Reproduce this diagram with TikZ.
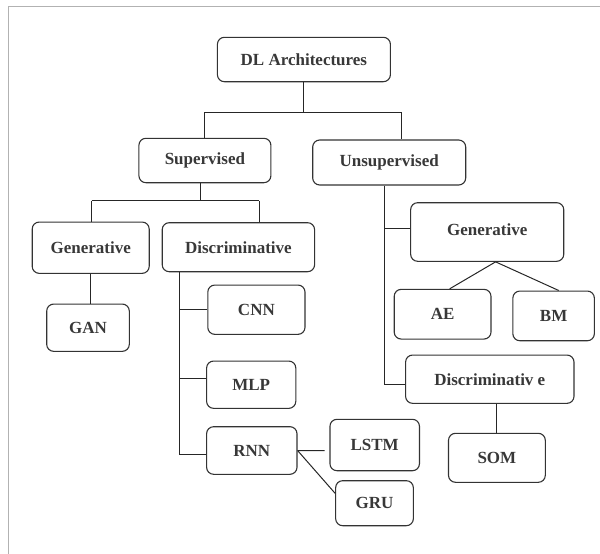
\documentclass[tikz,border=0pt]{standalone}
\usepackage{fontspec}
\setmainfont{Liberation Serif}
\usetikzlibrary{calc}
\begin{document}
\begin{tikzpicture}[x=1pt,y=-1pt,
  box/.style={draw=black!80, line width=1.1pt, rounded corners=7pt, inner sep=0pt,
    align=center, text=black!78, font=\bfseries\fontsize{17}{20}\selectfont},
  sz/.style 2 args={minimum width=#1pt, minimum height=#2pt},
  link/.style={draw=black!85, line width=1pt},
  frame/.style={draw=black!30, line width=1.3pt}]
\useasboundingbox (0,0) rectangle (600,554);
% page frame (left and top edges)
\draw[frame] (8.4,554) -- (8.4,6.7) -- (600,6.7);

% boxes
\node[box, sz={173}{44.4}] (dl) at (303.9,59.5) {DL Architectures};
\node[box, sz={132}{44.4}] (sup) at (204.9,160.5) {Supervised};
\node[box, sz={153}{45}] (unsup) at (389.2,162.5) {Unsupervised};
\node[box, sz={117}{51.3}] (genL) at (90.7,247.7) {Generative};
\node[box, sz={152.4}{49}] (discL) at (238.4,247.2) {Discriminative};
\node[box, sz={82.6}{47.3}] (gan) at (88,327.7) {GAN};
\node[box, sz={97.2}{49.3}] (cnn) at (256.4,309.7) {CNN};
\node[box, sz={89.2}{47.3}] (mlp) at (251.2,384.7) {MLP};
\node[box, sz={90.4}{47.6}] (rnn) at (251.8,450.5) {RNN};
\node[box, sz={89.5}{51.4}] (lstm) at (374.7,445) {LSTM};
\node[box, sz={77.7}{45}] (gru) at (374.5,503.2) {GRU};
\node[box, sz={153.1}{58.6}] (genR) at (487.2,232) {\raisebox{5pt}{Generative}};
\node[box, sz={96.8}{49.7}] (ae) at (442.6,314.2) {AE};
\node[box, sz={81.5}{49.7}] (bm) at (553.6,315.9) {BM};
\node[box, sz={168.4}{48.3}] (discR) at (489.8,379.2) {Discriminativ e};
\node[box, sz={96.8}{49}] (som) at (496.9,457.8) {SOM};

% junction points
\coordinate (b1) at (204.7,112.3);
\coordinate (b2) at (401,112.3);
\coordinate (s1) at (200.1,200.7);
\coordinate (s2) at (91.8,200.7);
\coordinate (s3) at (259.1,200.7);
\coordinate (dx) at (179.1,454);
\coordinate (m1) at (179.1,378.3);
\coordinate (l1) at (324.5,450.7);
\coordinate (g1) at (335.6,493.3);
\coordinate (ux) at (384.6,384);
\coordinate (u1) at (384.6,228.3);
\coordinate (gr) at (495.6,261.3);
\coordinate (a1) at (449.7,289.3);
\coordinate (bm1) at (558.7,291);

% top level
\draw[link] (dl.south) -- (dl.south |- b1);
\draw[link] (b1) -- (b2);
\draw[link] (b1) -- (b1 |- sup.north);
\draw[link] (b2) -- (b2 |- unsup.north);

% supervised branch
\draw[link] (sup.south -| s1) -- (s1);
\draw[link] (s2) -- (s3);
\draw[link] (s2) -- (s2 |- genL.north);
\draw[link] (s3) -- (s3 |- discL.north);
\draw[link] (genL.south) -- (genL.south |- gan.north);
\draw[link] (discL.south -| dx) -- (dx) -- (dx -| rnn.west);
\draw[link] (cnn.west) -- (cnn.west -| dx);
\draw[link] (mlp.west |- m1) -- (m1);
\draw[link] (rnn.east) -- (l1);
\draw[link] (rnn.east) -- (gru.west |- g1);

% unsupervised branch
\draw[link] (unsup.south -| ux) -- (ux) -- (ux -| discR.west);
\draw[link] (u1) -- (u1 -| genR.west);
\draw[link] (genR.south -| gr) -- (ae.north -| a1);
\draw[link] (genR.south -| gr) -- (bm.north -| bm1);
\draw[link] (som.north) -- (som.north |- discR.south);
\end{tikzpicture}
\end{document}
